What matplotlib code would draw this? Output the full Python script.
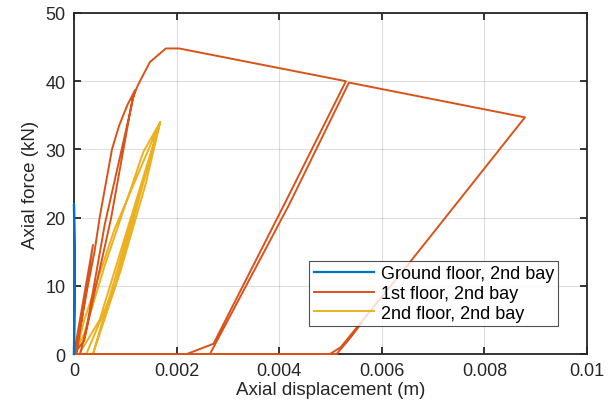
import matplotlib
matplotlib.use("Agg")
import matplotlib.pyplot as plt
from matplotlib.ticker import FuncFormatter

plt.rcParams['font.family'] = ['Liberation Sans', 'DejaVu Sans']

# ground floor, 2nd bay (almost rigid)
gf_disp = [0.0, 0.00001, 0.0, 0.000015, 0.0]
gf_force = [0.0, 12.0, 22.0, 12.0, 0.0]

# 1st floor, 2nd bay
f1_disp = [0.0, 0.00037, 0.00005, 0.0,
           0.00015, 0.00027, 0.0004, 0.0005, 0.00062, 0.00074, 0.00088, 0.00104, 0.00119,
           0.0006, 0.00025, 0.00012, 0.0,
           0.0002, 0.0004, 0.00072, 0.00114, 0.00125,
           0.00148, 0.00179, 0.00205, 0.0053,
           0.00415, 0.00272, 0.0022, 0.0,
           0.00265, 0.0042, 0.00536,
           0.00879, 0.0065, 0.0052, 0.00499, 0.0,
           0.00512, 0.0054, 0.0056]
f1_force = [0.0, 16.0, 0.0, 0.0,
            5.0, 10.0, 15.0, 20.0, 25.0, 30.0, 33.5, 36.5, 38.7,
            19.0, 4.0, 0.0, 0.0,
            2.0, 9.0, 19.8, 37.4, 39.5,
            42.8, 44.8, 44.8, 40.0,
            22.7, 1.5, 0.0, 0.0,
            0.0, 22.0, 39.8,
            34.7, 13.0, 1.0, 0.0, 0.0,
            0.0, 2.5, 4.5]

# 2nd floor, 2nd bay
f2_disp = [0.0, 0.0002, 0.0006, 0.00135, 0.00168,
           0.00079, 0.0002, 0.00005, 0.0,
           0.00024, 0.0008, 0.00168,
           0.00037, 0.0002, 0.0,
           0.00037, 0.0009, 0.0014, 0.00168, 0.0005, 0.0001]
f2_force = [0.0, 3.0, 13.0, 29.6, 34.0,
            18.3, 5.0, 0.5, 0.0,
            0.0, 10.0, 34.0,
            0.0, 0.0, 0.0,
            0.0, 12.0, 25.0, 34.0, 5.0, 0.0]

labels = ["Ground floor, 2nd bay", "1st floor, 2nd bay", "2nd floor, 2nd bay"]
colors = ["#0072BD", "#D95319", "#EDB120"]

fig = plt.figure(figsize=(6.13, 4.14), dpi=100)
ax = fig.add_axes([0.1207, 0.1425, 0.8369, 0.8237])

ax.plot(gf_disp, gf_force, color=colors[0], lw=1.6, label=labels[0], clip_on=False, zorder=5)
ax.plot(f1_disp, f1_force, color=colors[1], lw=1.4, label=labels[1], clip_on=False, zorder=4)
ax.plot(f2_disp, f2_force, color=colors[2], lw=1.4, label=labels[2], clip_on=False, zorder=3)

ax.set_xlim(0, 0.01)
ax.set_ylim(0, 50)
ax.set_xticks([0, 0.002, 0.004, 0.006, 0.008, 0.01])
ax.set_yticks([0, 10, 20, 30, 40, 50])
ax.xaxis.set_major_formatter(FuncFormatter(lambda v, p: "%g" % round(v, 4)))

ax.grid(True, color="#262626", alpha=0.15, lw=0.8)
ax.set_axisbelow(True)
for s in ax.spines.values():
    s.set_color("#262626")
    s.set_linewidth(1.3)
ax.tick_params(direction="in", length=5, width=1.3, colors="#262626",
               labelsize=13, top=True, right=True, pad=6)

ax.set_xlabel("Axial displacement (m)", fontsize=13.5, color="#262626", labelpad=1)
ax.set_ylabel("Axial force (kN)", fontsize=13.5, color="#262626", labelpad=5)

leg = ax.legend(loc="lower right", bbox_to_anchor=(0.962, 0.055), fontsize=13,
                frameon=True, fancybox=False, edgecolor="#262626",
                handlelength=3.3, borderpad=0.25, labelspacing=0.15, handletextpad=0.4)
leg.get_frame().set_linewidth(0.8)

fig.savefig("out.png", dpi=100)
